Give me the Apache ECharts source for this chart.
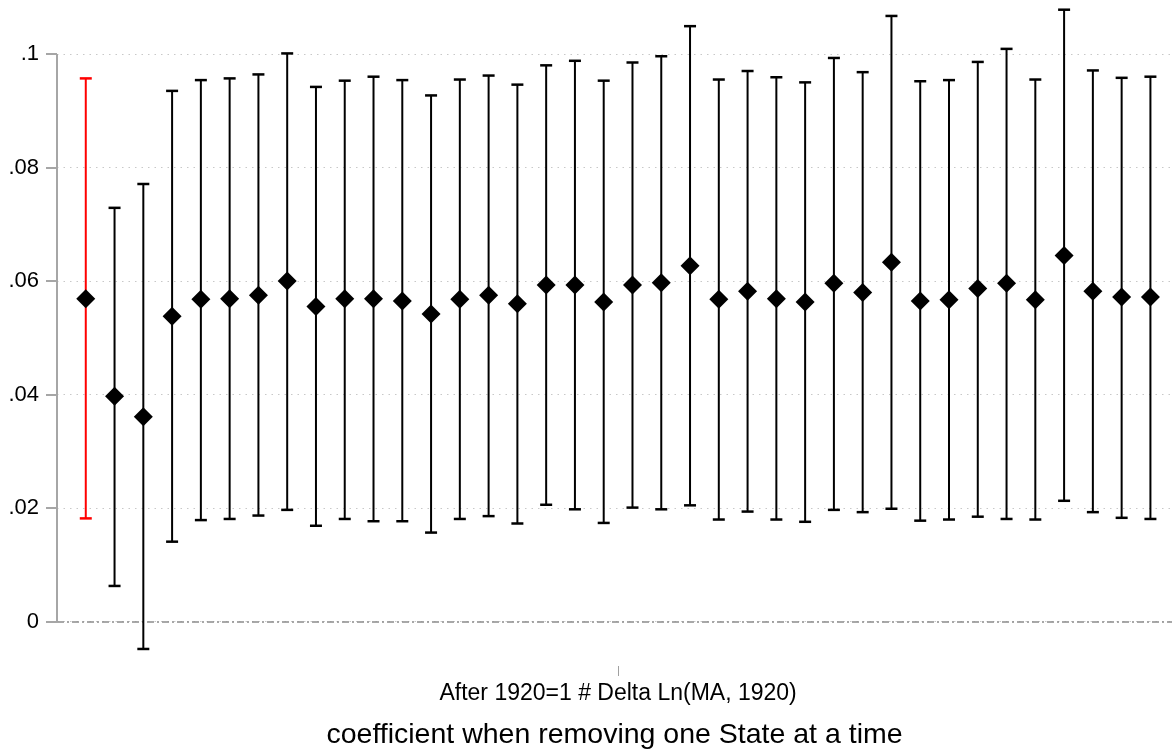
<!DOCTYPE html>
<html>
<head>
<meta charset="utf-8">
<script src="https://cdn.jsdelivr.net/npm/echarts@6/dist/echarts.min.js"></script>
<style>
html,body{margin:0;padding:0;background:#ffffff;}
#chart{width:1172px;height:750px;}
</style>
</head>
<body>
<div id="chart"></div>
<script>
// Point estimates (one per state removed)
const coef = [0.0569, 0.0397, 0.0361, 0.0538, 0.0568, 0.0569, 0.0575, 0.0600, 0.0555, 0.0569,
              0.0569, 0.0565, 0.0542, 0.0568, 0.0575, 0.0560, 0.0593, 0.0593, 0.0563, 0.0593,
              0.0597, 0.0627, 0.0568, 0.0582, 0.0569, 0.0563, 0.0596, 0.0580, 0.0633, 0.0565,
              0.0567, 0.0587, 0.0596, 0.0567, 0.0645, 0.0582, 0.0572, 0.0572];
// Confidence interval bounds
const lower = [0.0182, 0.0063, -0.0048, 0.0141, 0.0179, 0.0181, 0.0187, 0.0197, 0.0169, 0.0181,
               0.0177, 0.0177, 0.0157, 0.0181, 0.0186, 0.0173, 0.0206, 0.0198, 0.0174, 0.0201,
               0.0198, 0.0205, 0.0180, 0.0194, 0.0180, 0.0176, 0.0197, 0.0193, 0.0199, 0.0178,
               0.0180, 0.0185, 0.0181, 0.0180, 0.0213, 0.0193, 0.0183, 0.0181];
const upper = [0.0957, 0.0729, 0.0771, 0.0935, 0.0954, 0.0957, 0.0964, 0.1001, 0.0942, 0.0953,
               0.0960, 0.0954, 0.0927, 0.0955, 0.0962, 0.0946, 0.0980, 0.0988, 0.0953, 0.0985,
               0.0996, 0.1049, 0.0955, 0.0970, 0.0959, 0.0950, 0.0993, 0.0968, 0.1067, 0.0952,
               0.0954, 0.0986, 0.1009, 0.0955, 0.1078, 0.0971, 0.0958, 0.0960];
const yTicks = [0, 0.02, 0.04, 0.06, 0.08, 0.1];
const xTickPos = [19.5];
const xTickLabel = 'After 1920=1 # Delta Ln(MA, 1920)';
const xTitle = 'coefficient when removing one State at a time';
const highlightIndex = 0;   // full-sample estimate drawn in red

const positions = coef.map((_, i) => i + 1);
const barData = positions.map((x, i) => [x, lower[i], upper[i]]);
const pointData = positions.map((x, i) => [x, coef[i]]);

const FONT = '"Liberation Sans", Arial, Helvetica, sans-serif';
const chart = echarts.init(document.getElementById('chart'), null, {renderer: 'canvas'});

chart.setOption({
  backgroundColor: '#ffffff',
  animation: false,
  textStyle: {fontFamily: FONT},
  grid: {left: 57, top: 3, right: 0, bottom: 84, outerBoundsMode: 'none', containLabel: false},
  xAxis: {
    type: 'value',
    min: 0,
    max: positions.length + 0.75,
    axisLine: {show: false, onZero: false},
    splitLine: {show: false},
    axisTick: {show: true, customValues: xTickPos, length: 10, lineStyle: {color: '#a0a0a0', width: 1}},
    axisLabel: {
      show: true, customValues: xTickPos, margin: 16,
      fontSize: 23, color: '#000', fontFamily: FONT,
      formatter: () => xTickLabel
    },
    name: xTitle,
    nameLocation: 'middle',
    nameGap: 55,
    nameTextStyle: {fontSize: 28.5, color: '#000', fontFamily: FONT}
  },
  yAxis: {
    type: 'value',
    min: -0.0078,
    max: 0.10898,
    axisLine: {show: false},
    axisTick: {show: true, customValues: yTicks, length: 11, lineStyle: {color: '#a6a6a6', width: 2}},
    axisLabel: {
      show: true, customValues: yTicks, margin: 18,
      fontSize: 22, color: '#000', fontFamily: FONT,
      formatter: v => (v === 0 ? '0' : String(+v.toFixed(4)).replace(/^0/, ''))
    },
    splitLine: {show: true, lineStyle: {color: '#c8c8c8', width: 1, type: [1.5, 5]}}
  },
  series: [
    {
      name: 'refs',
      type: 'scatter',
      data: [],
      silent: true,
      markLine: {
        silent: true,
        z: 1,
        symbol: 'none',
        animation: false,
        label: {show: false},
        emphasis: {disabled: true},
        data: [
          {yAxis: 0, lineStyle: {color: '#8c8c8c', width: 1.5, type: [7, 3, 2, 3]}},
          [{coord: [0, yTicks[0]], lineStyle: {color: '#a6a6a6', width: 2, type: 'solid'}},
           {coord: [0, yTicks[yTicks.length - 1]]}]
        ]
      }
    },
    {
      name: 'ci',
      type: 'custom',
      z: 3,
      data: barData,
      encode: {x: 0, y: [1, 2]},
      renderItem: function (params, api) {
        const x = api.value(0);
        const pLo = api.coord([x, api.value(1)]);
        const pHi = api.coord([x, api.value(2)]);
        const color = params.dataIndex === highlightIndex ? '#ff0000' : '#000000';
        const cap = 6;
        return {
          type: 'group',
          children: [
            {type: 'line', shape: {x1: pLo[0], y1: pLo[1], x2: pHi[0], y2: pHi[1]},
             style: {stroke: color, lineWidth: 2}},
            {type: 'line', shape: {x1: pHi[0] - cap, y1: pHi[1], x2: pHi[0] + cap, y2: pHi[1]},
             style: {stroke: color, lineWidth: 2.5}},
            {type: 'line', shape: {x1: pLo[0] - cap, y1: pLo[1], x2: pLo[0] + cap, y2: pLo[1]},
             style: {stroke: color, lineWidth: 2.5}}
          ]
        };
      }
    },
    {
      name: 'coef',
      type: 'scatter',
      z: 4,
      data: pointData,
      symbol: 'diamond',
      symbolSize: 19,
      itemStyle: {color: '#000000', opacity: 1},
      emphasis: {disabled: true}
    }
  ]
});
</script>
</body>
</html>
